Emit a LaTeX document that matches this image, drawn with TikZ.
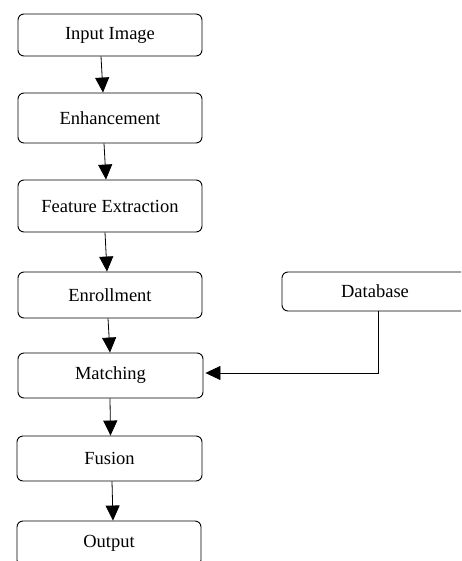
\documentclass[tikz,border=0pt]{standalone}
\usepackage{fontspec}
\setmainfont{Liberation Serif}
\usetikzlibrary{arrows.meta}
\begin{document}
\begin{tikzpicture}[x=1pt,y=-1pt,
  box/.style={draw=black, line width=0.9pt, rounded corners=6pt, inner sep=0pt,
    font=\fontsize{18.5}{22}\selectfont},
  conn/.style={draw=black, line width=0.8pt, -{Triangle[width=14pt,length=15pt]}}]
\useasboundingbox (0,0) rectangle (461,561);
\clip (0,0) rectangle (461,561);
\fill[white] (0,0) rectangle (461,561);
\node[box, minimum width=184pt, minimum height=42pt] (in) at (110,35) {Input Image};
\node[box, minimum width=184pt, minimum height=50pt] (enh) at (110,118) {Enhancement};
\node[box, minimum width=184pt, minimum height=52pt] (feat) at (110,206) {Feature Extraction};
\node[box, minimum width=184pt, minimum height=46pt] (enr) at (110,295) {Enrollment};
\node[box, minimum width=185pt, minimum height=45pt] (match) at (110.5,375.5) {Matching};
\node[box, minimum width=185pt, minimum height=45pt] (fus) at (109.5,458.5) {Fusion};
\node[box, minimum width=184pt, minimum height=45pt] (out) at (109,543.5) {Output};
\node[box, minimum width=186pt, minimum height=39pt] (db) at (375,291.5) {Database};
\draw[conn] ([xshift=-9pt]in.south) -- ([xshift=-7pt]enh.north);
\draw[conn] ([xshift=-6pt]enh.south) -- ([xshift=-4pt]feat.north);
\draw[conn] ([xshift=-5pt]feat.south) -- ([xshift=-3pt]enr.north);
\draw[conn] ([xshift=-2pt]enr.south) -- ([xshift=-0.5pt]match.north);
\draw[conn] ([xshift=-0.5pt]match.south) -- ([xshift=1pt]fus.north);
\draw[conn] ([xshift=2.5pt]fus.south) -- ([xshift=4pt]out.north);
\coordinate (bend) at (378,373);
\draw[conn] (db.south -| bend) -- (bend) -- ([xshift=2pt]match.east |- bend);
\end{tikzpicture}
\end{document}
